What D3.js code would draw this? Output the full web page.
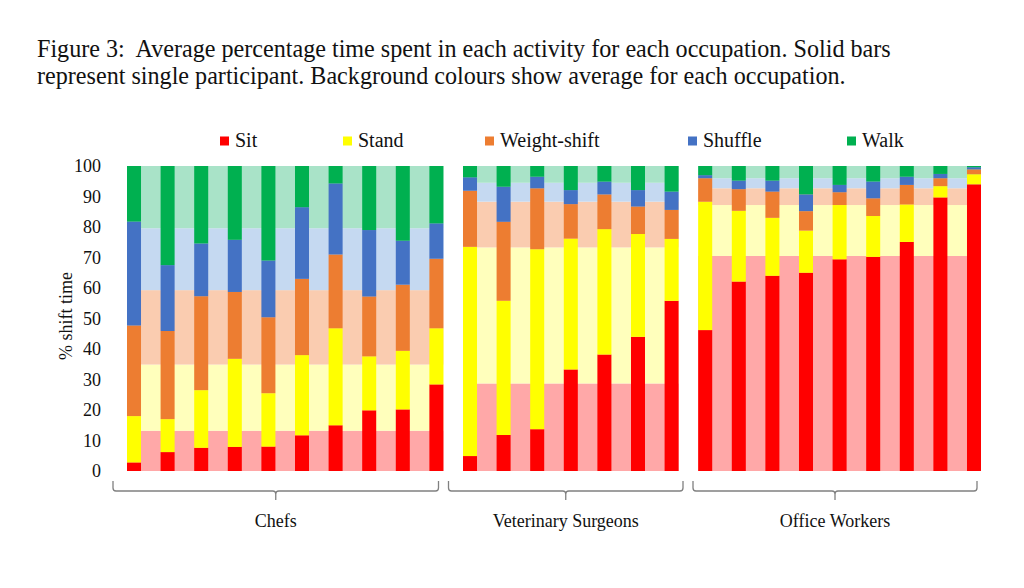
<!DOCTYPE html>
<html><head><meta charset="utf-8">
<script src="https://cdn.jsdelivr.net/npm/d3@7"></script>
<style>body{margin:0;background:#fff}svg{display:block}text{font-family:"Liberation Serif","Times New Roman",serif;fill:#111}</style>
</head><body><svg id="c" width="1024" height="588"></svg>
<script>
// ---------- DATA ----------
const titleLines = [
  "Figure 3:  Average percentage time spent in each activity for each occupation. Solid bars",
  "represent single participant. Background colours show average for each occupation."
];
const activities = ["Sit", "Stand", "Weight-shift", "Shuffle", "Walk"];
const occupations = ["Chefs", "Veterinary Surgeons", "Office Workers"];
const yTicks = [0, 10, 20, 30, 40, 50, 60, 70, 80, 90, 100];
const yTitle = "% shift time";

// per participant, % of shift
const chefsSit     = [2.8, 6.2, 7.6, 7.9, 8.0, 11.7, 15.0, 19.9, 20.2, 28.4];
const chefsStand   = [15.2, 10.8, 18.9, 28.9, 17.5, 26.3, 31.8, 17.7, 19.2, 18.4];
const chefsWeight  = [29.7, 28.9, 30.8, 21.9, 24.9, 25.0, 24.2, 19.6, 21.7, 22.8];
const chefsShuffle = [34.1, 21.6, 17.3, 17.1, 18.6, 23.5, 23.3, 21.8, 14.4, 11.6];
const chefsWalk    = [18.2, 32.5, 25.4, 24.2, 31.0, 13.5, 5.7, 21.0, 24.5, 18.8];

const vetsSit     = [4.9, 11.8, 13.7, 33.3, 38.2, 44.0, 55.8];
const vetsStand   = [68.6, 44.0, 59.0, 42.9, 41.1, 33.7, 20.3];
const vetsWeight  = [18.4, 25.9, 20.0, 11.3, 11.4, 9.0, 9.5];
const vetsShuffle = [4.4, 11.5, 3.8, 4.6, 4.2, 5.4, 6.0];
const vetsWalk    = [3.7, 6.8, 3.5, 7.9, 5.1, 7.9, 8.4];

const officeSit     = [46.2, 62.1, 64.0, 65.0, 69.4, 70.2, 75.1, 89.7, 94.0];
const officeStand   = [42.1, 23.2, 19.0, 13.8, 17.8, 13.4, 12.3, 3.7, 3.3];
const officeWeight  = [7.7, 7.1, 8.6, 6.4, 4.2, 5.8, 6.4, 2.6, 1.6];
const officeShuffle = [1.0, 2.8, 3.6, 5.5, 2.4, 5.5, 2.7, 1.4, 0.7];
const officeWalk    = [3.0, 4.8, 4.8, 9.3, 6.2, 5.1, 3.5, 2.6, 0.4];

// occupation averages (Sit, Stand, Weight-shift, Shuffle, Walk)
const chefsAverage  = [13.2, 21.7, 24.4, 20.3, 20.4];
const vetsAverage   = [28.7, 44.6, 15.0, 6.2, 5.5];
const officeAverage = [70.5, 16.7, 5.5, 3.3, 4.0];

// ---------- STYLE / LAYOUT ----------
const solidColors = ["#FF0000", "#FFFF00", "#ED7D31", "#4472C4", "#00B050"];
const lightColors = ["#FFA8A8", "#FFFFBC", "#FACCB0", "#C5D9F1", "#A9E3C8"];
const legendX = [220, 343, 485, 688, 847];
const bracketEdges = [108, 443.5, 688, 982];

const groups = [
  {name: occupations[0], rows: [chefsSit, chefsStand, chefsWeight, chefsShuffle, chefsWalk], avg: chefsAverage},
  {name: occupations[1], rows: [vetsSit, vetsStand, vetsWeight, vetsShuffle, vetsWalk], avg: vetsAverage},
  {name: occupations[2], rows: [officeSit, officeStand, officeWeight, officeShuffle, officeWalk], avg: officeAverage}
];
const participants = [];
groups.forEach((g, gi) => {
  g.rows[0].forEach((_, i) => {
    const rec = {id: g.name + "-" + (i + 1), group: gi};
    activities.forEach((a, ai) => rec[a] = g.rows[ai][i]);
    participants.push(rec);
  });
});

const svg = d3.select("#c");
const x = d3.scaleBand().domain(participants.map(d => d.id)).range([127, 981]).paddingInner(0.583).paddingOuter(0);
const y = d3.scaleLinear().domain([0, 100]).range([471, 166]);
const color = d3.scaleOrdinal().domain(activities).range(solidColors);
const lightColor = d3.scaleOrdinal().domain(activities).range(lightColors);

// title
const title = svg.append("g");
const t1 = title.append("text").attr("x", 37).attr("y", 57).attr("xml:space", "preserve")
  .style("white-space", "pre").style("font-size", "22px").text(titleLines[0]);
const w = t1.node().getComputedTextLength();
const fs = 22 * 854 / w;
t1.style("font-size", fs + "px");
title.append("text").attr("x", 37).attr("y", 83.5).style("font-size", fs + "px").text(titleLines[1]);

// backgrounds (averages)
groups.forEach((g, gi) => {
  const ids = participants.filter(p => p.group === gi).map(p => p.id);
  const x0 = x(ids[0]), x1 = x(ids[ids.length - 1]) + x.bandwidth();
  const stackAvg = d3.stack().keys(activities)([Object.fromEntries(activities.map((a, i) => [a, g.avg[i]]))]);
  svg.append("g").selectAll("rect").data(stackAvg).join("rect")
    .attr("x", x0).attr("width", x1 - x0)
    .attr("y", s => y(s[0][1])).attr("height", s => y(s[0][0]) - y(s[0][1]))
    .attr("fill", s => lightColor(s.key));
});

// solid bars
const series = d3.stack().keys(activities)(participants);
svg.append("g").selectAll("g").data(series).join("g")
  .attr("fill", s => color(s.key))
  .selectAll("rect").data(s => s).join("rect")
  .attr("x", d => x(d.data.id)).attr("width", x.bandwidth())
  .attr("y", d => y(d[1])).attr("height", d => y(d[0]) - y(d[1]));

// y axis
const yAxis = svg.append("g").attr("transform", "translate(104,0)")
  .call(d3.axisLeft(y).tickValues(yTicks).tickSize(0).tickPadding(3));
yAxis.select(".domain").remove();
yAxis.selectAll("text").style("font-family", '"Liberation Serif",serif').style("font-size", "18px").attr("fill", "#222");
svg.append("text").attr("transform", "translate(72,316) rotate(-90)").attr("text-anchor", "middle")
  .style("font-size", "18px").attr("fill", "#222").text(yTitle);

// brackets + group labels
groups.forEach((g, gi) => {
  const L = bracketEdges[gi] + 5, R = bracketEdges[gi + 1] - 5, C = (L + R) / 2;
  const yb = 491;
  const p = d3.path();
  p.moveTo(L, 481); p.lineTo(L, yb - 3); p.quadraticCurveTo(L, yb, L + 3, yb);
  p.lineTo(C - 3, yb); p.quadraticCurveTo(C, yb, C, yb + 3); p.lineTo(C, 500);
  p.moveTo(C, yb + 3); p.quadraticCurveTo(C, yb, C + 3, yb);
  p.lineTo(R - 3, yb); p.quadraticCurveTo(R, yb, R, yb - 3); p.lineTo(R, 481);
  svg.append("path").attr("d", p.toString()).attr("fill", "none").attr("stroke", "#808080").attr("stroke-width", 1.3);
  svg.append("text").attr("x", C).attr("y", 527).attr("text-anchor", "middle").style("font-size", "18px").attr("fill", "#222").text(g.name);
});

// legend
const legend = svg.append("g");
activities.forEach((a, i) => {
  legend.append("rect").attr("x", legendX[i]).attr("y", 136.5).attr("width", 9).attr("height", 9).attr("fill", color(a));
  legend.append("text").attr("x", legendX[i] + 15).attr("y", 146.5).style("font-size", "20px").attr("fill", "#222").text(a);
});
</script></body></html>
